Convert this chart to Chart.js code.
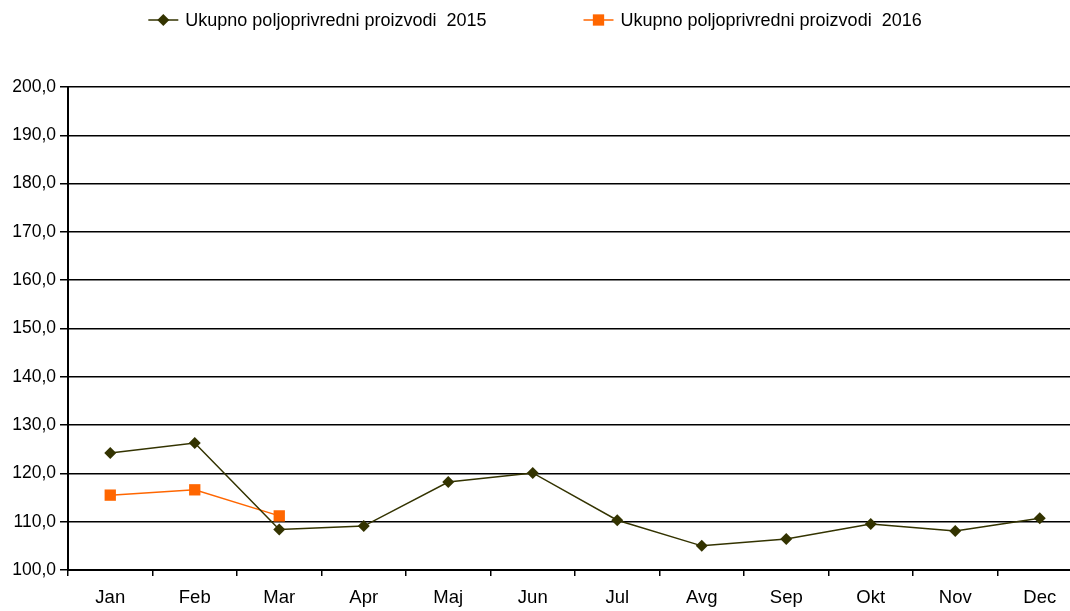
<!DOCTYPE html>
<html>
<head>
<meta charset="utf-8">
<script src="https://cdn.jsdelivr.net/npm/chart.js@4/dist/chart.umd.min.js"></script>
<style>
  html, body { margin: 0; padding: 0; background: #fff; overflow: hidden; }
  #wrap { width: 1090px; height: 611px; }
</style>
</head>
<body>
<div id="wrap"><canvas id="chart" width="1090" height="611"></canvas></div>
<script>
const months = ["Jan", "Feb", "Mar", "Apr", "Maj", "Jun", "Jul", "Avg", "Sep", "Okt", "Nov", "Dec"];
const values2015 = [124.2, 126.3, 108.4, 109.1, 118.2, 120.1, 110.3, 105.0, 106.4, 109.5, 108.1, 110.7];
const values2016 = [115.5, 116.6, 111.2];
const label2015 = "Ukupno poljoprivredni proizvodi  2015";
const label2016 = "Ukupno poljoprivredni proizvodi  2016";

const FONT = "'Liberation Sans', Arial, Helvetica, sans-serif";
const OLIVE = "#333300";
const ORANGE = "#ff6600";

// legend drawn by hand: line with marker, then the label, both items centred in the window
const topLegend = {
  id: "topLegend",
  afterDraw(chart) {
    const c = chart.ctx;
    const lineLen = 30;
    const textGap = 7;
    const itemGap = 97;
    const y = 20;
    c.save();
    c.font = "18px " + FONT;
    const widths = chart.data.datasets.map((ds) => lineLen + textGap + c.measureText(ds.label).width);
    const total = widths.reduce((a, b) => a + b, 0) + itemGap * (widths.length - 1);
    let x = (1070 - total) / 2;
    chart.data.datasets.forEach((ds, i) => {
      c.strokeStyle = ds.borderColor;
      c.lineWidth = ds.borderWidth;
      c.beginPath();
      c.moveTo(x, y);
      c.lineTo(x + lineLen, y);
      c.stroke();
      c.fillStyle = ds.backgroundColor;
      Chart.helpers.drawPoint(c, {
        pointStyle: ds.pointStyle,
        radius: ds.pointRadius,
        rotation: 0,
        borderWidth: 0,
      }, x + lineLen / 2, y);
      c.fillStyle = "#000";
      c.textBaseline = "middle";
      c.textAlign = "left";
      c.fillText(ds.label, x + lineLen + textGap, y + 1);
      x += widths[i] + itemGap;
    });
    c.restore();
  },
};

const ctx = document.getElementById("chart").getContext("2d");
const myChart = new Chart(ctx, {
  type: "line",
  data: {
    labels: months,
    datasets: [
      {
        label: label2015,
        data: values2015,
        borderColor: OLIVE,
        backgroundColor: OLIVE,
        borderWidth: 1.5,
        pointStyle: "rectRot",
        pointRadius: 6,
        pointBorderWidth: 0,
        tension: 0,
      },
      {
        label: label2016,
        data: values2016,
        borderColor: ORANGE,
        backgroundColor: ORANGE,
        borderWidth: 1.5,
        pointStyle: "rect",
        pointRadius: 8,
        pointBorderWidth: 0,
        tension: 0,
      },
    ],
  },
  options: {
    responsive: false,
    animation: false,
    layout: { padding: { top: 87, right: 7, left: 0, bottom: 0 } },
    plugins: {
      tooltip: { enabled: false },
      legend: { display: false },
    },
    scales: {
      x: {
        offset: true,
        grid: {
          offset: true,
          drawOnChartArea: false,
          drawTicks: true,
          tickLength: 6,
          color: "#000",
          lineWidth: 1.5,
        },
        border: { color: "#000", width: 2 },
        ticks: {
          color: "#000",
          font: { family: FONT, size: 18.5 },
          padding: 11,
          maxRotation: 0,
          autoSkip: false,
        },
        afterFit(scale) { scale.height = 41; },
      },
      y: {
        min: 100,
        max: 200,
        grid: {
          color: "#000",
          lineWidth: 1.5,
          tickLength: 8,
        },
        border: { color: "#000", width: 2 },
        ticks: {
          stepSize: 10,
          color: "#000",
          font: { family: FONT, size: 17.5 },
          padding: 4,
          callback: (v) => v.toFixed(1).replace(".", ","),
        },
        afterFit(scale) { scale.width = 68; },
      },
    },
  },
  plugins: [topLegend],
});
</script>
</body>
</html>
